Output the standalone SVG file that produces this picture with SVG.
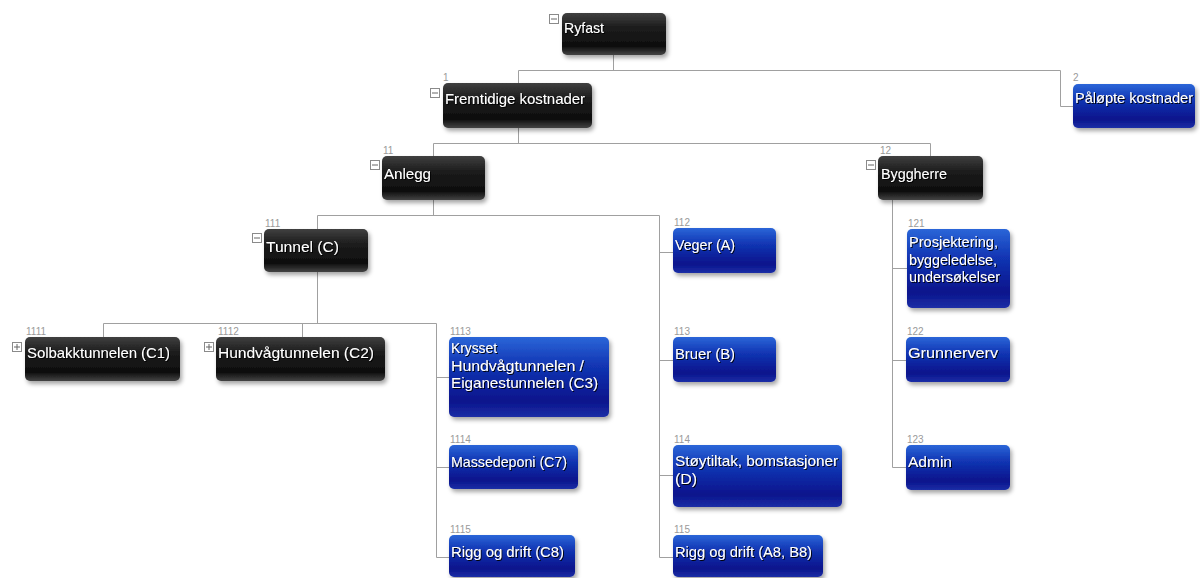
<svg xmlns="http://www.w3.org/2000/svg" width="1200" height="578" viewBox="0 0 1200 578">
<defs>
<linearGradient id="gDark" x1="0" y1="0" x2="0" y2="1">
<stop offset="0" stop-color="#404040"/>
<stop offset="0.35" stop-color="#1c1c1c"/>
<stop offset="0.8" stop-color="#0e0e0e"/>
<stop offset="1" stop-color="#444444"/>
</linearGradient>
<linearGradient id="gBlue" x1="0" y1="0" x2="0" y2="1">
<stop offset="0" stop-color="#2b66d8"/>
<stop offset="0.35" stop-color="#1236b4"/>
<stop offset="0.8" stop-color="#0a148c"/>
<stop offset="1" stop-color="#1c2ea6"/>
</linearGradient>
<filter id="sh" x="-10%" y="-20%" width="130%" height="160%">
<feDropShadow dx="2" dy="3" stdDeviation="2" flood-color="#000" flood-opacity="0.35"/>
</filter>
<filter id="tsh" x="-5%" y="-30%" width="115%" height="170%">
<feDropShadow dx="1" dy="1" stdDeviation="0.6" flood-color="#000" flood-opacity="0.9"/>
</filter>
</defs>
<style>
.dark{fill:url(#gDark);filter:url(#sh)}
.blue{fill:url(#gBlue);filter:url(#sh)}
.t{font-family:"Liberation Sans","Arial",sans-serif;font-size:15px;fill:#ffffff;filter:url(#tsh)}
.n{font-family:"Liberation Sans","DejaVu Sans",sans-serif;font-size:10px;fill:#9a9a9a}
.ic{fill:#ffffff;stroke:#8a8a8a;stroke-width:1}
.icl{stroke:#666;stroke-width:1;fill:none}
.c{fill:none;stroke:#a0a0a0;stroke-width:1}
</style>
<rect width="1200" height="578" fill="#ffffff"/>
<g id="connectors">
<path class="c" d="M613.5,55 V70.5 M518.5,70.5 H1060.5 M518.5,70.5 V83 M1060.5,70.5 V106.5 H1073"/>
<path class="c" d="M518.5,128 V143.5 M433.5,143.5 H930.5 M433.5,143.5 V156 M930.5,143.5 V156"/>
<path class="c" d="M433.5,200 V215.5 M317.5,215.5 H659.5 M317.5,215.5 V229 M659.5,215.5 V557.5 M659.5,252.5 H673 M659.5,360.5 H673 M659.5,475.5 H673 M659.5,557.5 H673"/>
<path class="c" d="M317.5,272 V323.5 M103.5,323.5 H436.5 M103.5,323.5 V337 M302.5,323.5 V337 M436.5,323.5 V557.5 M436.5,377.5 H449 M436.5,467.5 H449 M436.5,557.5 H449"/>
<path class="c" d="M892.5,200 V467.5 M892.5,268.5 H907 M892.5,360.5 H906 M892.5,467.5 H906"/>
</g>
<g id="node-ryfast">
<rect class="dark" x="562" y="13" width="104" height="42" rx="5"/>
<rect class="ic" x="549.5" y="14.5" width="9" height="9"/><path class="icl" d="M551,19 H557"/>
<text class="t" x="564" y="33" textLength="40" lengthAdjust="spacingAndGlyphs">Ryfast</text>
</g>
<g id="node-1">
<rect class="dark" x="443" y="83" width="149" height="45" rx="5"/>
<text class="n" x="443" y="81">1</text>
<rect class="ic" x="430.5" y="88.5" width="9" height="9"/><path class="icl" d="M432,93 H438"/>
<text class="t" x="445" y="104" textLength="140" lengthAdjust="spacingAndGlyphs">Fremtidige kostnader</text>
</g>
<g id="node-2">
<rect class="blue" x="1073" y="84" width="122" height="44" rx="5"/>
<text class="n" x="1073" y="81">2</text>
<text class="t" x="1075" y="103" textLength="118" lengthAdjust="spacingAndGlyphs">Påløpte kostnader</text>
</g>
<g id="node-11">
<rect class="dark" x="382" y="156" width="103" height="44" rx="5"/>
<text class="n" x="383" y="154">11</text>
<rect class="ic" x="370.5" y="160.5" width="9" height="9"/><path class="icl" d="M372,165 H378"/>
<text class="t" x="384" y="179" textLength="47" lengthAdjust="spacingAndGlyphs">Anlegg</text>
</g>
<g id="node-12">
<rect class="dark" x="878" y="156" width="105" height="44" rx="5"/>
<text class="n" x="880" y="154">12</text>
<rect class="ic" x="866.5" y="160.5" width="9" height="9"/><path class="icl" d="M868,165 H874"/>
<text class="t" x="881" y="179" textLength="66" lengthAdjust="spacingAndGlyphs">Byggherre</text>
</g>
<g id="node-111">
<rect class="dark" x="264" y="229" width="104" height="43" rx="5"/>
<text class="n" x="265" y="227">111</text>
<rect class="ic" x="252.5" y="233.5" width="9" height="9"/><path class="icl" d="M254,238 H260"/>
<text class="t" x="266" y="252" textLength="73" lengthAdjust="spacingAndGlyphs">Tunnel (C)</text>
</g>
<g id="node-112">
<rect class="blue" x="673" y="228" width="103" height="45" rx="5"/>
<text class="n" x="674" y="226">112</text>
<text class="t" x="675" y="250" textLength="60" lengthAdjust="spacingAndGlyphs">Veger (A)</text>
</g>
<g id="node-113">
<rect class="blue" x="673" y="337" width="103" height="45" rx="5"/>
<text class="n" x="674" y="335">113</text>
<text class="t" x="675" y="359" textLength="60" lengthAdjust="spacingAndGlyphs">Bruer (B)</text>
</g>
<g id="node-114">
<rect class="blue" x="673" y="445" width="169" height="62" rx="5"/>
<text class="n" x="674" y="443">114</text>
<text class="t" x="675" y="466" textLength="163" lengthAdjust="spacingAndGlyphs">Støytiltak, bomstasjoner</text>
<text class="t" x="675" y="483.5" textLength="22" lengthAdjust="spacingAndGlyphs">(D)</text>
</g>
<g id="node-115">
<rect class="blue" x="673" y="535" width="150" height="42" rx="5"/>
<text class="n" x="674" y="533">115</text>
<text class="t" x="675" y="557" textLength="137" lengthAdjust="spacingAndGlyphs">Rigg og drift (A8, B8)</text>
</g>
<g id="node-121">
<rect class="blue" x="907" y="229" width="103" height="79" rx="5"/>
<text class="n" x="908" y="227">121</text>
<text class="t" x="909" y="247" textLength="89" lengthAdjust="spacingAndGlyphs">Prosjektering,</text>
<text class="t" x="909" y="264.5" textLength="88" lengthAdjust="spacingAndGlyphs">byggeledelse,</text>
<text class="t" x="909" y="282" textLength="91" lengthAdjust="spacingAndGlyphs">undersøkelser</text>
</g>
<g id="node-122">
<rect class="blue" x="906" y="337" width="104" height="45" rx="5"/>
<text class="n" x="907" y="335">122</text>
<text class="t" x="908" y="358" textLength="90" lengthAdjust="spacingAndGlyphs">Grunnerverv</text>
</g>
<g id="node-123">
<rect class="blue" x="906" y="445" width="104" height="45" rx="5"/>
<text class="n" x="907" y="443">123</text>
<text class="t" x="908" y="467" textLength="44" lengthAdjust="spacingAndGlyphs">Admin</text>
</g>
<g id="node-1111">
<rect class="dark" x="25" y="337" width="155" height="44" rx="5"/>
<text class="n" x="26" y="335">1111</text>
<rect class="ic" x="12.5" y="342.5" width="9" height="9"/><path class="icl" d="M14,347 H20 M17,344 V350"/>
<text class="t" x="27" y="358" textLength="143" lengthAdjust="spacingAndGlyphs">Solbakktunnelen (C1)</text>
</g>
<g id="node-1112">
<rect class="dark" x="216" y="337" width="169" height="44" rx="5"/>
<text class="n" x="218" y="335">1112</text>
<rect class="ic" x="204.5" y="342.5" width="9" height="9"/><path class="icl" d="M206,347 H212 M209,344 V350"/>
<text class="t" x="218" y="358" textLength="156" lengthAdjust="spacingAndGlyphs">Hundvågtunnelen (C2)</text>
</g>
<g id="node-1113">
<rect class="blue" x="449" y="337" width="160" height="80" rx="5"/>
<text class="n" x="450" y="335">1113</text>
<text class="t" x="451" y="353" textLength="46" lengthAdjust="spacingAndGlyphs">Krysset</text>
<text class="t" x="451" y="370.5" textLength="133" lengthAdjust="spacingAndGlyphs">Hundvågtunnelen /</text>
<text class="t" x="451" y="388" textLength="147" lengthAdjust="spacingAndGlyphs">Eiganestunnelen (C3)</text>
</g>
<g id="node-1114">
<rect class="blue" x="449" y="445" width="129" height="44" rx="5"/>
<text class="n" x="450" y="443">1114</text>
<text class="t" x="451" y="467" textLength="116" lengthAdjust="spacingAndGlyphs">Massedeponi (C7)</text>
</g>
<g id="node-1115">
<rect class="blue" x="449" y="535" width="126" height="42" rx="5"/>
<text class="n" x="450" y="533">1115</text>
<text class="t" x="451" y="557" textLength="113" lengthAdjust="spacingAndGlyphs">Rigg og drift (C8)</text>
</g>
</svg>
